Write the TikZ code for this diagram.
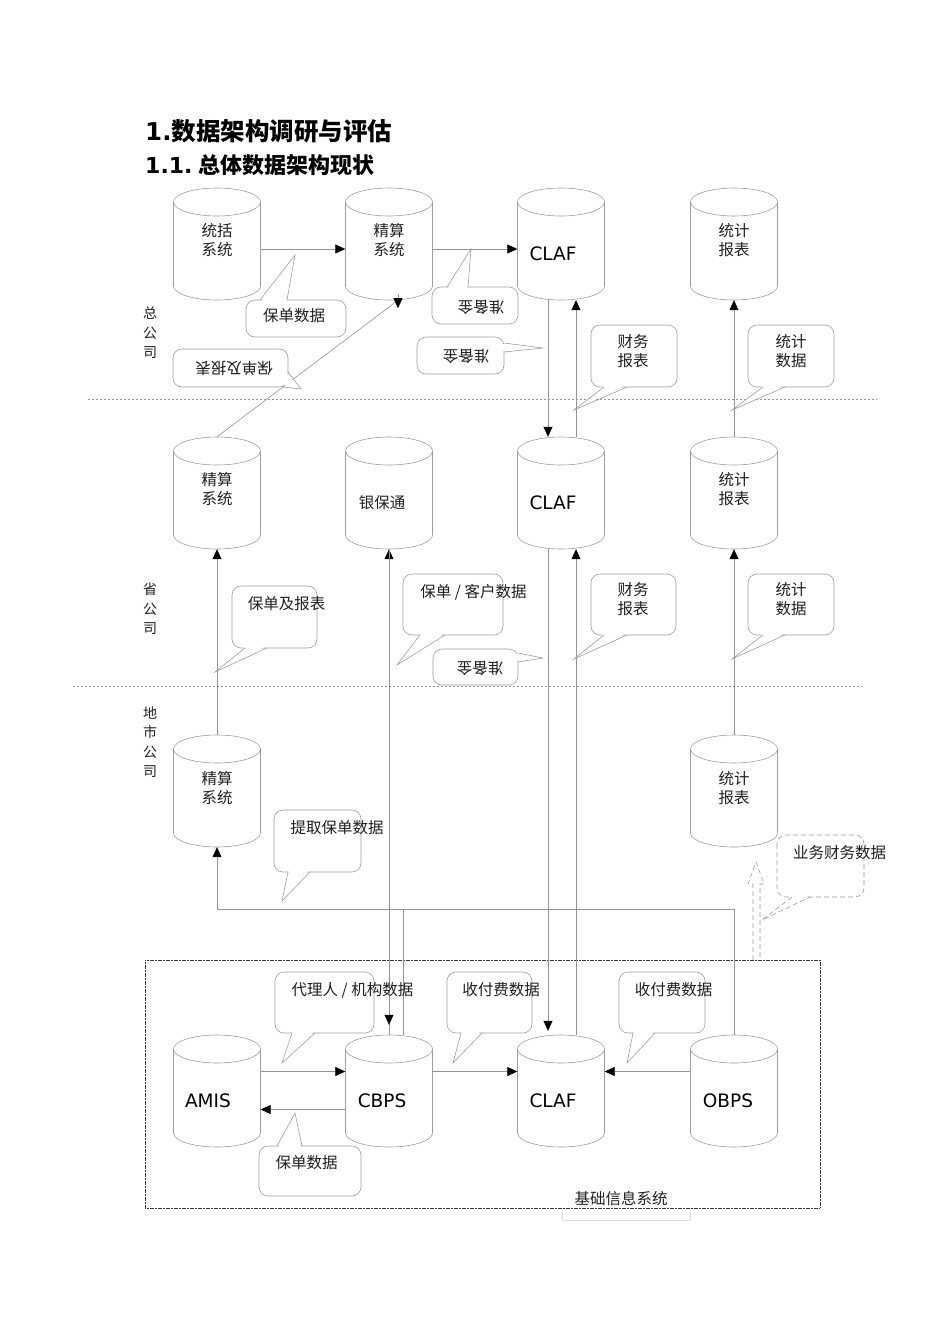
\documentclass[tikz,border=0pt]{standalone}
\usepackage{fontspec}
\setmainfont{Noto Sans CJK SC}
\newfontfamily\lat{DejaVu Sans}
\usetikzlibrary{arrows.meta,calc}
\definecolor{lg}{gray}{0.58}
\definecolor{cg}{gray}{0.62}
\definecolor{tx}{gray}{0.12}
\definecolor{bx}{gray}{0.22}
\newcommand\dbcyl[3]{%
  \node[cylnode] (#1) at (#2,#3+56) {};
  \draw[cyl] (#2,#3+14) ellipse[x radius=43.5,y radius=14];
  \draw[cyl] (#2-43.5,#3+14) -- (#2-43.5,#3+98) arc[start angle=180,end angle=0,x radius=43.5,y radius=14] -- (#2+43.5,#3+14);
}
% callout: x1,y1,x2,y2 (rect), fill base 1, tip, fill base 2, line base 1, line base 2
\newcommand\callout[9]{%
  \draw[call] (#1,#2) rectangle (#3,#4);
  \fill[white] (#5) -- (#6) -- (#7) -- cycle;
  \draw[callline] #8 -- (#6) -- #9;
}
\begin{document}
\begin{tikzpicture}[x=1pt,y=-1pt,
  cylnode/.style={rectangle,minimum width=87pt,minimum height=112pt,inner sep=0pt,draw=none},
  cyl/.style={draw=cg,line width=0.6pt,fill=none},
  call/.style={draw=cg,line width=0.6pt,fill=white,rounded corners=9pt},
  callline/.style={draw=cg,line width=0.6pt},
  wire/.style={draw=lg,line width=0.6pt},
  arr/.style={draw=lg,line width=0.6pt,-{Triangle[length=10pt,width=9pt,color=black]}},
  txt/.style={text=tx,font=\fontsize{15.5}{18.5}\selectfont,inner sep=0pt,align=center},
  ltxt/.style={text=black,font=\lat\fontsize{18.5}{22}\selectfont,inner sep=0pt},
  sep/.style={draw=lg,line width=0.5pt,dash pattern=on 2pt off 2pt},
  side/.style={text=tx,font=\fontsize{14}{19.5}\selectfont,inner sep=0pt,align=center},
  hollow/.style={draw=cg,line width=0.6pt,dash pattern=on 5pt off 3pt},
  dcall/.style={draw=cg,line width=0.6pt,fill=white,rounded corners=9pt,dash pattern=on 5pt off 3pt},
  ]
\useasboundingbox (0,0) rectangle (950,1344);

% titles
\node[anchor=west,inner sep=0pt,text=black] (t1) at (145,131) {\fontsize{24.5}{28}\selectfont\bfseries{\lat 1.}数据架构调研与评估};
\node[anchor=west,inner sep=0pt,text=black] (t2) at (145,165) {\fontsize{22}{26}\selectfont\bfseries{\lat 1.1.}\hspace{6pt}总体数据架构现状};

% separators
\coordinate (s1a) at (88,399); \coordinate (s1b) at (877,399);
\coordinate (s2a) at (73,686); \coordinate (s2b) at (862,686);
\draw[sep] (s1a) -- (s1b);
\draw[sep] (s2a) -- (s2b);

% side labels
\node[side] (lhq) at (150,333) {总\\公\\司};
\node[side] (lpv) at (150,609) {省\\公\\司};
\node[side] (lct) at (150,742) {地\\市\\公\\司};

% base box
\coordinate (bb1) at (145,960); \coordinate (bb2) at (820,1208);
\draw[draw=bx,line width=0.9pt,dash pattern=on 1.2pt off 0.4pt] (bb1) rectangle (bb2);
\draw[draw=gray!25,line width=0.5pt] (562,1208) -- (562,1220) -- (690,1220) -- (690,1208);
\node[txt] (lbase) at (621,1199) {基础信息系统};

% cylinders
\dbcyl{tk}{217}{188}
\dbcyl{jsa}{389}{188}
\dbcyl{clafa}{561}{188}
\dbcyl{tja}{734}{188}
\dbcyl{jsb}{217}{437}
\dbcyl{ybt}{389}{437}
\dbcyl{clafb}{561}{437}
\dbcyl{tjb}{734}{437}
\dbcyl{jsc}{217}{735}
\dbcyl{tjc}{734}{735}
\dbcyl{amis}{217}{1035}
\dbcyl{cbps}{389}{1035}
\dbcyl{clafd}{561}{1035}
\dbcyl{obps}{734}{1035}

% cylinder texts
\node[txt] (tk-t) at (217,240) {统括\\系统};
\node[txt] (jsa-t) at (389,240) {精算\\系统};
\node[ltxt] (clafa-t) at (553,254) {CLAF};
\node[txt] (tja-t) at (734,240) {统计\\报表};
\node[txt] (jsb-t) at (217,489) {精算\\系统};
\node[txt] (ybt-t) at (382,503) {银保通};
\node[ltxt] (clafb-t) at (553,503) {CLAF};
\node[txt] (tjb-t) at (734,489) {统计\\报表};
\node[txt] (jsc-t) at (217,788) {精算\\系统};
\node[txt] (tjc-t) at (734,788) {统计\\报表};
\node[ltxt] (amis-t) at (208,1101) {AMIS};
\node[ltxt] (cbps-t) at (382,1101) {CBPS};
\node[ltxt] (clafd-t) at (553,1101) {CLAF};
\node[ltxt] (obps-t) at (728,1101) {OBPS};

% connectors HQ row
\draw[arr] ([yshift=-5pt]tk.east) -- ([yshift=-5pt]jsa.west);
\draw[arr] ([yshift=-5pt]jsa.east) -- ([yshift=-5pt]clafa.west);
\draw[wire] (jsb.north) -- ([xshift=9pt]jsa.south);
\draw[arr] ([xshift=9pt,yshift=6pt]jsa.south) -- ([xshift=9pt,yshift=-8pt]jsa.south);
\draw[arr] ([xshift=-13pt]clafa.south) -- ([xshift=-13pt]clafb.north);
\draw[arr] ([xshift=15pt]clafb.north) -- ([xshift=15pt]clafa.south);
\draw[arr] (tjb.north) -- (tja.south);

% province row
\draw[arr] (jsc.north) -- (jsb.south);
\draw[arr] (tjc.north) -- (tjb.south);
\draw[arr] (cbps.north) -- (ybt.south);
\draw[arr] (ybt.south) -- ([yshift=10pt]cbps.north);
\draw[arr] ([xshift=-13pt]clafb.south) -- ([xshift=-13pt,yshift=4pt]clafd.north);
\draw[arr] ([xshift=15pt]clafd.north) -- ([xshift=15pt]clafb.south);

% long path to city 精算
\coordinate (hl) at (0,909);
\draw[arr] (obps.north) -- (obps.north |- hl) -- (jsc.south |- hl) -- (jsc.south);
\draw[wire] ([xshift=14pt]cbps.north) -- ([xshift=14pt]cbps.north |- hl);

% base row
\draw[arr] ([yshift=19.5pt]amis.east) -- ([yshift=19.5pt]cbps.west);
\draw[arr] ([yshift=-18.5pt]cbps.west) -- ([yshift=-18.5pt]amis.east);
\draw[arr] ([yshift=19.5pt]cbps.east) -- ([yshift=19.5pt]clafd.west);
\draw[arr] ([yshift=19.5pt]obps.west) -- ([yshift=19.5pt]clafd.east);

% hollow dashed arrow
\coordinate (ha1) at (753,960); \coordinate (ha2) at (760,960);
\draw[hollow] (ha1) -- (753,884) -- (748,884) -- (756,862) -- (764,884) -- (760,884) -- (ha2);

% callouts
\callout{246}{300}{346}{337}{261,302}{295,255}{286,302}{(260,300)}{(287,300)}
\node[txt] (c1) at (294,316) {保单数据};

\callout{432}{287}{518}{324}{448,289}{471,249}{467,289}{(447,287)}{(468,287)}
\node[txt,rotate=180] (c2) at (481,307) {准备金};

\callout{417}{337}{504}{374}{502,344}{543,348}{502,351}{(504,343)}{(504,352)}
\node[txt,rotate=180] (c3) at (466,356) {准备金};

\callout{173}{349}{288}{387}{286,373}{301,389}{284,385}{(288,372)}{(283,387)}
\node[txt,rotate=180] (c4) at (234,368) {保单及报表};

\callout{591}{325}{677}{387}{605,385}{574,410}{626,385}{(604,387)}{(627,387)}
\node[txt] (c5) at (633,351) {财务\\报表};

\callout{748}{325}{834}{387}{764,385}{732,410}{784,385}{(763,387)}{(785,387)}
\node[txt] (c6) at (791,351) {统计\\数据};

\callout{232}{586}{317}{648}{246,646}{215,672}{266,646}{(245,648)}{(267,648)}
\node[txt] (c7) at (286.5,604) {保单及报表};

\callout{403}{574}{503}{635}{421,633}{397,665}{444,633}{(420,635)}{(445,635)}
\node[txt] (c8) at (473.5,592) {保单 / 客户数据};

\callout{433}{649}{518}{685}{516,654}{543,658}{516,661}{(518,653)}{(518,662)}
\node[txt,rotate=180] (c9) at (480,668) {准备金};

\callout{591}{574}{676}{635}{605,633}{574,659}{626,633}{(604,635)}{(627,635)}
\node[txt] (c10) at (633,599) {财务\\报表};

\callout{748}{574}{834}{635}{764,633}{732,659}{784,633}{(763,635)}{(785,635)}
\node[txt] (c11) at (791,599) {统计\\数据};

\callout{274}{810}{361}{872}{289,870}{282,901}{309,870}{(288,872)}{(310,872)}
\node[txt] (c12) at (337,828) {提取保单数据};

\draw[dcall] (777,835) rectangle (864,897);
\fill[white] (793,895) -- (762,920) -- (809,895) -- cycle;
\draw[hollow] (792,897) -- (762,920) -- (810,897);
\node[txt] (c13) at (839.5,853) {业务财务数据};

\callout{275}{972}{374}{1033}{293,1031}{282,1063}{314,1031}{(292,1033)}{(315,1033)}
\node[txt] (c14) at (352.5,990) {代理人 / 机构数据};

\callout{447}{972}{532}{1033}{462,1031}{453,1063}{481,1031}{(461,1033)}{(482,1033)}
\node[txt] (c15) at (501,990) {收付费数据};

\callout{619}{972}{705}{1033}{634,1031}{627,1063}{654,1031}{(633,1033)}{(655,1033)}
\node[txt] (c16) at (673.5,990) {收付费数据};

\callout{259}{1146}{361}{1196}{278,1148}{295,1113}{301,1148}{(277,1146)}{(302,1146)}
\node[txt] (c17) at (306.5,1163) {保单数据};

\end{tikzpicture}
\end{document}
